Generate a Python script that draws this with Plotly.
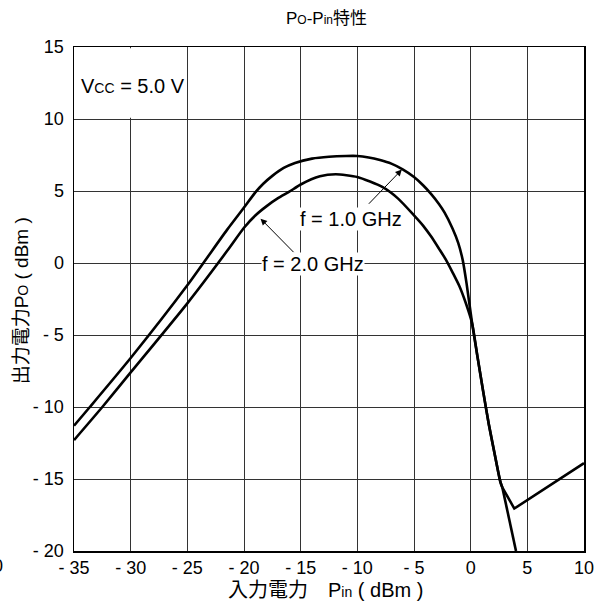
import plotly.graph_objects as go

# ---- data ----
f1_label = "f = 1.0 GHz"
f1_x = [-35, -33.6, -30, -25, -21.5, -20, -19, -18.3, -17.5, -16.5, -15.5, -14, -12.5, -11, -10,
        -9, -8, -7, -6, -5, -4.2, -3.5, -2.8, -2.3, -1.6, -1.1, -0.7, -0.36, 0.13, 0.6,
        1.1, 1.6, 2.1, 2.62, 2.8, 4.0]
f1_y = [-11.3, -10, -6.6, -1.55, 2.3, 3.85, 4.9, 5.5, 6.05, 6.6, 6.95, 7.25, 7.38, 7.43, 7.43,
        7.33, 7.15, 6.9, 6.5, 5.97, 5.4, 4.8, 4.1, 3.5, 2.4, 1.4, 0.2, -1.43, -4.2, -6.5,
        -8.9, -11.2, -13.2, -15.2, -15.6, -20]

f2_label = "f = 2.0 GHz"
f2_x = [-35, -32.5, -30, -25, -21.45, -20, -19, -18, -17, -16, -15, -13.3, -11.9, -10,
        -7.8, -6.4, -5, -4.2, -3.5, -2.8, -2.2, -1.6, -1.0, -0.4, 0.13, 0.6,
        1.1, 1.6, 2.1, 2.62, 2.8, 3.85, 10]
f2_y = [-12.3, -10, -7.6, -2.8, 0.88, 2.45, 3.3, 3.95, 4.5, 4.95, 5.45, 6.02, 6.16, 5.97,
        5.28, 4.47, 3.31, 2.6, 1.85, 1.0, 0.25, -0.65, -1.6, -2.85, -4.2, -6.5,
        -8.9, -11.2, -13.2, -15.2, -15.6, -17.05, -13.9]

x_ticks = [-35, -30, -25, -20, -15, -10, -5, 0, 5, 10]
x_ticktext = ["- 35", "- 30", "- 25", "- 20", "- 15", "- 10", "- 5", "0", "5", "10"]
y_ticks = [-20, -15, -10, -5, 0, 5, 10, 15]
y_ticktext = ["- 20", "- 15", "- 10", "- 5", "0", "5", "10", "15"]

FONT = "Liberation Sans, Arial, Noto Sans CJK JP, sans-serif"
TICK = 18
LABEL = 20
LINE = dict(color="black", width=2.6)

fig = go.Figure()
# smooth body of each curve (spline) + straight tail after the split point (linear)
for xs, ys, name in [(f1_x, f1_y, f1_label), (f2_x, f2_y, f2_label)]:
    k = xs.index(2.8)
    fig.add_trace(go.Scatter(x=xs[:k + 1], y=ys[:k + 1], mode="lines", name=name,
                             line=dict(shape="spline", smoothing=0.6, **LINE),
                             showlegend=False))
    fig.add_trace(go.Scatter(x=xs[k:], y=ys[k:], mode="lines", name=name,
                             line=dict(shape="linear", **LINE), showlegend=False))

axis_common = dict(showgrid=True, gridcolor="#333333", gridwidth=1, zeroline=False,
                   showline=True, linecolor="black", linewidth=1.5, mirror=True,
                   ticks="", tickfont=dict(family=FONT, size=TICK, color="black"))

fig.update_layout(
    width=606, height=604, autosize=False,
    margin=dict(l=74, r=14, t=47, b=53),
    paper_bgcolor="white", plot_bgcolor="white",
    font=dict(family=FONT, color="black"),
    hovermode=False,
    xaxis=dict(range=[-35, 10], tickvals=x_ticks, ticktext=x_ticktext, **axis_common),
    yaxis=dict(range=[-20, 15], tickvals=y_ticks, ticktext=y_ticktext,
               ticklabelstandoff=5, **axis_common),
)

# hide the -30 grid segment behind the Vcc label
fig.add_shape(type="rect", xref="x", yref="y", x0=-31, x1=-29, y0=10.08, y1=14.92,
              fillcolor="white", line=dict(width=0), layer="between")


def sub(s, size):
    return f'<span style="font-size:{size}px">{s}</span>'


annotations = [
    dict(text=f"P{sub('O', 12)}-P{sub('in', 12)}特性", xref="paper", yref="paper",
         x=0.4942, y=1.0556, xanchor="center", yanchor="middle", showarrow=False,
         font=dict(size=17)),
    dict(text=f"入力電力　P{sub('in', 14)} ( dBm )", xref="paper", yref="paper",
         x=0.494, y=-0.078, xanchor="center", yanchor="middle", showarrow=False,
         font=dict(size=LABEL)),
    dict(text=f"出力電力P{sub('O', 14)} ( dBm )", xref="paper", yref="paper",
         x=-0.1023, y=0.497, xanchor="center", yanchor="middle", showarrow=False,
         textangle=-90, font=dict(size=19)),
    dict(text=f"V{sub('CC', 14)} = 5.0 V", xref="x", yref="y", x=-34.6, y=12.27,
         xanchor="left", yanchor="middle", showarrow=False, font=dict(size=LABEL)),
    dict(text="0", xref="paper", yref="paper", x=-0.135, y=-0.030,
         xanchor="right", yanchor="middle", showarrow=False, font=dict(size=TICK)),
    # curve labels
    dict(text=f1_label, xref="x", yref="y", x=-10.57, y=3.05, xanchor="center",
         yanchor="middle", showarrow=False, font=dict(size=LABEL), bgcolor="white",
         borderpad=0),
    dict(text=f2_label, xref="x", yref="y", x=-13.9, y=-0.06, xanchor="center",
         yanchor="middle", showarrow=False, font=dict(size=LABEL), bgcolor="white",
         borderpad=0),
    # arrows
    dict(text="", xref="x", yref="y", axref="x", ayref="y", x=-6.07, y=6.49,
         ax=-9.11, ay=4.01, showarrow=True, arrowhead=2, arrowsize=1.3,
         arrowwidth=1, arrowcolor="black"),
    dict(text="", xref="x", yref="y", axref="x", ayref="y", x=-18.54, y=3.08,
         ax=-15.5, ay=0.65, showarrow=True, arrowhead=2, arrowsize=1.3,
         arrowwidth=1, arrowcolor="black"),
]
fig.update_layout(annotations=annotations)

fig.write_html(
    "out.html",
    config={"displayModeBar": False, "responsive": False, "staticPlot": True},
    post_script="document.body.style.margin='0px';"
                "document.documentElement.style.overflow='hidden';"
                "document.body.style.overflow='hidden';",
)
